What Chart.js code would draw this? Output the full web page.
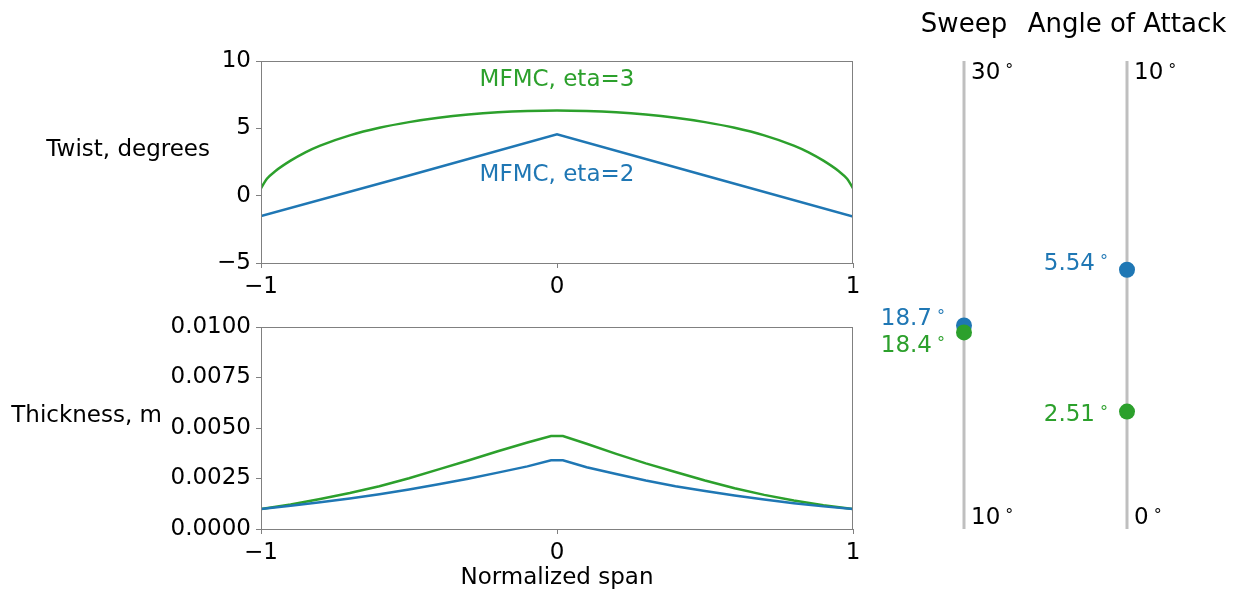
<!DOCTYPE html>
<html>
<head>
<meta charset="utf-8">
<script src="https://cdn.jsdelivr.net/npm/chart.js@4"></script>
<style>
  body { margin: 0; background: #fff; width: 1243px; height: 596px; overflow: hidden; position: relative; }
  .box { position: absolute; }
</style>
</head>
<body>
<div class="box" style="left:0;top:0;width:880px;height:300px"><canvas id="twistChart"></canvas></div>
<div class="box" style="left:0;top:300px;width:880px;height:296px"><canvas id="thickChart"></canvas></div>
<div class="box" style="left:870px;top:0;width:373px;height:596px"><canvas id="sliderChart"></canvas></div>
<script>
// =========================
// DATA
// =========================

const seriesNames = ["MFMC, eta=2", "MFMC, eta=3"];
const seriesColors = ["#1f77b4", "#2ca02c"];

const spanTicks = [-1, 0, 1];
const twistTicks = [-5, 0, 5, 10];
const thickTicks = [0, 0.0025, 0.005, 0.0075, 0.01];

// twist along the span, degrees
const spanTwistEta2 = [-1, -0.5, 0, 0.5, 1];
const twistEta2 = [-1.52, 1.5, 4.55, 1.5, -1.55];

const spanTwistEta3 = [-1, -0.98, -0.95, -0.9, -0.85, -0.8, -0.7, -0.6, -0.5, -0.4, -0.3, -0.2, -0.1, 0,
  0.1, 0.2, 0.3, 0.4, 0.5, 0.6, 0.7, 0.8, 0.85, 0.9, 0.95, 0.98, 1];
const twistEta3 = [0.55, 1.25, 1.85, 2.6, 3.22, 3.72, 4.48, 5.04, 5.46, 5.78, 6.02, 6.19, 6.29, 6.33,
  6.29, 6.19, 6.02, 5.78, 5.46, 5.04, 4.48, 3.72, 3.22, 2.6, 1.85, 1.25, 0.55];

// thickness along the span, metres
const spanThick = [-1, -0.9, -0.8, -0.7, -0.6, -0.5, -0.4, -0.3, -0.2, -0.1, -0.02,
  0.02, 0.1, 0.2, 0.3, 0.4, 0.5, 0.6, 0.7, 0.8, 0.9, 1];
const thickEta2 = [0.00099, 0.00115, 0.00132, 0.00151, 0.00172, 0.00196, 0.00222, 0.00249, 0.00279, 0.0031, 0.0034,
  0.0034, 0.00306, 0.00272, 0.0024, 0.00212, 0.00188, 0.00166, 0.00146, 0.00128, 0.00112, 0.00099];
const thickEta3 = [0.00099, 0.00121, 0.00148, 0.00178, 0.00212, 0.00251, 0.00295, 0.00339, 0.00385, 0.00428, 0.0046,
  0.0046, 0.00422, 0.00372, 0.00325, 0.00282, 0.0024, 0.00202, 0.00169, 0.00141, 0.00118, 0.00099];

// sweep and angle of attack, degrees
const sweepRange = [10, 30];
const aoaRange = [0, 10];
const sweepValues = [18.7, 18.4];
const aoaValues = [5.54, 2.51];

// =========================
// HELPERS
// =========================

const FONT = "DejaVu Sans";
const tickFont = { family: FONT, size: 23 };

function pts(xs, ys) {
  return xs.map((x, i) => ({ x: x, y: ys[i] }));
}

function minus(v) {
  return v < 0 ? "\u2212" + Math.abs(v) : String(v);
}

function fixedTicks(list) {
  return (scale) => {
    scale.ticks = list.map((v) => ({ value: v }));
  };
}

function axis(min, max, list, fmt, fit) {
  return {
    type: "linear",
    min: min,
    max: max,
    afterBuildTicks: fixedTicks(list),
    afterFit: fit,
    border: { display: false },
    grid: { drawOnChartArea: false, drawTicks: true, tickLength: 5, color: "#808080", lineWidth: 1 },
    ticks: { color: "#000", font: tickFont, padding: 5, maxRotation: 0, autoSkip: false, callback: fmt },
  };
}

function line(data, color, smooth) {
  return {
    data: data,
    borderColor: color,
    borderWidth: 2.5,
    pointRadius: 0,
    fill: false,
    tension: 0,
    cubicInterpolationMode: smooth ? "monotone" : "default",
  };
}

// frame + horizontal axis labels + inline notes
const framePlugin = {
  id: "frame",
  afterDraw(chart, args, opts) {
    const ctx = chart.ctx;
    const a = chart.chartArea;
    ctx.save();
    ctx.strokeStyle = "#808080";
    ctx.lineWidth = 1;
    ctx.strokeRect(Math.round(a.left) + 0.5, Math.round(a.top) + 0.5,
      Math.round(a.right - a.left) - 1, Math.round(a.bottom - a.top));
    ctx.fillStyle = "#000";
    ctx.font = "23px '" + FONT + "'";
    if (opts.ylabel) {
      ctx.textAlign = "right";
      ctx.textBaseline = "middle";
      ctx.fillText(opts.ylabel, opts.ylabelRight, (a.top + a.bottom) / 2 - 12);
    }
    if (opts.xlabel) {
      ctx.textAlign = "center";
      ctx.textBaseline = "alphabetic";
      ctx.fillText(opts.xlabel, (a.left + a.right) / 2, a.bottom + 55);
    }
    (opts.notes || []).forEach((n) => {
      ctx.fillStyle = n.color;
      ctx.textAlign = "center";
      ctx.textBaseline = "middle";
      ctx.fillText(n.text, chart.scales.x.getPixelForValue(n.x), chart.scales.y.getPixelForValue(n.y));
    });
    ctx.restore();
  },
};

// =========================
// CHARTS
// =========================

const twistChart = new Chart(document.getElementById("twistChart"), {
  type: "line",
  data: {
    datasets: [
      line(pts(spanTwistEta2, twistEta2), seriesColors[0], false),
      line(pts(spanTwistEta3, twistEta3), seriesColors[1], true),
    ],
  },
  options: {
    responsive: true,
    maintainAspectRatio: false,
    animation: false,
    layout: { padding: { top: 61, right: 27, left: 0, bottom: 0 } },
    scales: {
      x: axis(-1, 1, spanTicks, minus, (s) => { s.height = 37; }),
      y: axis(-5, 10, twistTicks, minus, (s) => { s.width = 261; }),
    },
    plugins: {
      legend: { display: false },
      tooltip: { enabled: false },
      frame: {
        ylabel: "Twist, degrees",
        ylabelRight: 210,
        notes: [
          { text: seriesNames[1], color: seriesColors[1], x: 0, y: 8.55 },
          { text: seriesNames[0], color: seriesColors[0], x: 0, y: 1.55 },
        ],
      },
    },
  },
  plugins: [framePlugin],
});

const thickChart = new Chart(document.getElementById("thickChart"), {
  type: "line",
  data: {
    datasets: [
      line(pts(spanThick, thickEta2), seriesColors[0], false),
      line(pts(spanThick, thickEta3), seriesColors[1], false),
    ],
  },
  options: {
    responsive: true,
    maintainAspectRatio: false,
    animation: false,
    layout: { padding: { top: 27, right: 27, left: 0, bottom: 0 } },
    scales: {
      x: axis(-1, 1, spanTicks, minus, (s) => { s.height = 67; }),
      y: axis(0, 0.01, thickTicks, (v) => v.toFixed(4), (s) => { s.width = 261; }),
    },
    plugins: {
      legend: { display: false },
      tooltip: { enabled: false },
      frame: { ylabel: "Thickness, m", ylabelRight: 162, xlabel: "Normalized span" },
    },
  },
  plugins: [framePlugin],
});

// =========================
// SLIDERS
// =========================

function drawDeg(ctx, num, x, y, align, color) {
  ctx.font = "23px '" + FONT + "'";
  const w = ctx.measureText(num).width;
  const gap = 6;
  const ring = 7;
  const start = align === "right" ? x - (w + gap + ring) : x;
  ctx.fillStyle = color;
  ctx.textAlign = "left";
  ctx.textBaseline = "alphabetic";
  ctx.fillText(num, start, y);
  ctx.font = "16px '" + FONT + "'";
  ctx.fillText("\u00b0", start + w + gap - 1, y - 4);
}

const sliderPlugin = {
  id: "sliderText",
  afterDraw(chart) {
    const ctx = chart.ctx;
    const x = chart.scales.x;
    ctx.save();
    const cols = [
      { title: "Sweep", scale: chart.scales.ySweep, range: sweepRange, values: sweepValues, dy: [0, 20] },
      { title: "Angle of Attack", scale: chart.scales.yAoa, range: aoaRange, values: aoaValues, dy: [0, 9] },
    ];
    cols.forEach((c, i) => {
      const px = x.getPixelForValue(i);
      ctx.font = "26px '" + FONT + "'";
      ctx.fillStyle = "#000";
      ctx.textAlign = "center";
      ctx.textBaseline = "alphabetic";
      ctx.fillText(c.title, px, 32);
      drawDeg(ctx, String(c.range[1]), px + 7, c.scale.getPixelForValue(c.range[1]) + 18, "left", "#000");
      drawDeg(ctx, String(c.range[0]), px + 7, c.scale.getPixelForValue(c.range[0]) - 5, "left", "#000");
      c.values.forEach((v, k) => {
        drawDeg(ctx, String(v), px - 19, c.scale.getPixelForValue(v) + c.dy[k], "right", seriesColors[k]);
      });
    });
    ctx.restore();
  },
};

function track(col, range, axisId) {
  return {
    type: "line",
    data: [{ x: col, y: range[0] }, { x: col, y: range[1] }],
    yAxisID: axisId,
    borderColor: "#bfbfbf",
    borderWidth: 3,
    pointRadius: 0,
    clip: false,
    order: 3,
  };
}

function dot(col, value, axisId, k) {
  return {
    data: [{ x: col, y: value }],
    yAxisID: axisId,
    backgroundColor: seriesColors[k],
    borderWidth: 0,
    pointRadius: 8,
    clip: false,
    order: k === 1 ? 0 : 1,
  };
}

const sliderChart = new Chart(document.getElementById("sliderChart"), {
  type: "scatter",
  data: {
    datasets: [
      track(0, sweepRange, "ySweep"),
      track(1, aoaRange, "yAoa"),
      dot(0, sweepValues[0], "ySweep", 0),
      dot(0, sweepValues[1], "ySweep", 1),
      dot(1, aoaValues[0], "yAoa", 0),
      dot(1, aoaValues[1], "yAoa", 1),
    ],
  },
  options: {
    responsive: true,
    maintainAspectRatio: false,
    animation: false,
    layout: { padding: { left: 94, right: 116, top: 61, bottom: 67 } },
    scales: {
      x: { type: "linear", min: 0, max: 1, display: false },
      ySweep: { type: "linear", position: "left", min: sweepRange[0], max: sweepRange[1], display: false },
      yAoa: { type: "linear", position: "right", min: aoaRange[0], max: aoaRange[1], display: false },
    },
    plugins: { legend: { display: false }, tooltip: { enabled: false } },
  },
  plugins: [sliderPlugin],
});
</script>
</body>
</html>
